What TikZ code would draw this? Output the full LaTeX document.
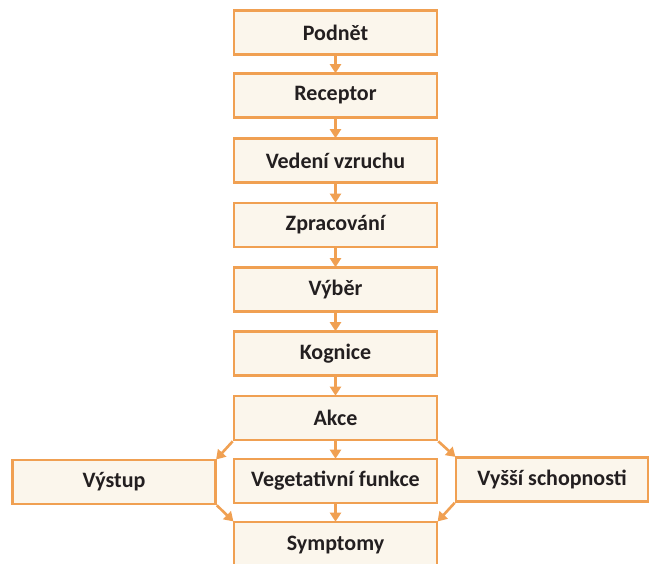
\documentclass[tikz,border=0pt]{standalone}
\usepackage{fontspec}
\setmainfont{Carlito}
\usetikzlibrary{arrows.meta}
\definecolor{edge}{HTML}{F0A052}
\definecolor{boxfill}{HTML}{FBF6EC}
\definecolor{ink}{HTML}{231F20}
\tikzset{
  stepbox/.style={draw=edge, fill=boxfill, line width=2.6pt, minimum width=203pt,
    minimum height=44pt, inner sep=0pt, text=ink, font=\fontsize{22}{26}\selectfont\bfseries},
  flow/.style={draw=edge, line width=2.6pt, -{Triangle[width=11pt,length=9pt]}, shorten >=-1pt}
}
\begin{document}
\begin{tikzpicture}[x=1pt,y=-1pt]
\useasboundingbox (0,0) rectangle (651,564);
\node[stepbox] (podnet)  at (335.5,32.5) {Podnět};
\node[stepbox] (recep)   at (335.5,95.5) {Receptor};
\node[stepbox] (vedeni)  at (335.5,160.5) {Vedení vzruchu};
\node[stepbox] (zprac)   at (335.5,225) {Zpracování};
\node[stepbox] (vyber)   at (335.5,289.5) {Výběr};
\node[stepbox] (kogn)    at (335.5,353.5) {Kognice};
\node[stepbox] (akce)    at (335.5,418) {Akce};
\node[stepbox] (veget)   at (335.5,481) {Vegetativní funkce};
\node[stepbox] (vystup)  at (114,482) {Výstup};
\node[stepbox, minimum width=192pt] (vyssi) at (552,479.5) {Vyšší schopnosti};
\node[stepbox, minimum height=46pt] (sympt) at (335.5,545) {Symptomy};

\draw[flow] (podnet) -- (recep);
\draw[flow] (recep) -- (vedeni);
\draw[flow] (vedeni) -- (zprac);
\draw[flow] (zprac) -- (vyber);
\draw[flow] (vyber) -- (kogn);
\draw[flow] (kogn) -- (akce);
\draw[flow] (akce) -- (veget);
\draw[flow] (veget) -- (sympt);
\draw[flow] (akce.south west) -- (vystup.north east);
\draw[flow] (akce.south east) -- (vyssi.north west);
\draw[flow] (vystup.south east) -- (sympt.north west);
\draw[flow] (vyssi.south west) -- (sympt.north east);
\end{tikzpicture}
\end{document}
